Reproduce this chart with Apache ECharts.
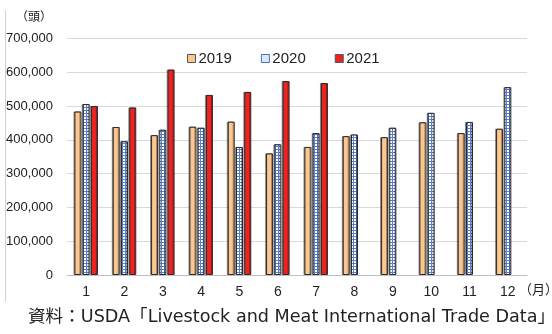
<!DOCTYPE html>
<html>
<head>
<meta charset="utf-8">
<script src="https://cdn.jsdelivr.net/npm/echarts@6/dist/echarts.min.js"></script>
<style>
  html, body { margin: 0; padding: 0; background: #fff; }
  #chart { width: 552px; height: 334px; }
</style>
</head>
<body>
<div id="chart"></div>
<script>
// Monthly head counts by year (months 8-12 have no 2021 figures)
var months = ['1', '2', '3', '4', '5', '6', '7', '8', '9', '10', '11', '12'];
var v2019 = [484000, 438000, 414000, 439000, 454000, 360000, 379000, 411000, 408000, 452000, 420000, 433000];
var v2020 = [506000, 396000, 430000, 436000, 379000, 387000, 420000, 416000, 436000, 480000, 453000, 556000];
var v2021 = [500000, 496000, 608000, 533000, 542000, 574000, 568000, null, null, null, null, null];
var seriesNames = ['2019', '2020', '2021'];
var yTicks = { min: 0, max: 700000, interval: 100000 };

var FONT = '"Noto Sans CJK JP", "Noto Sans", sans-serif';
var WIDE = '"Liberation Sans", "Noto Sans CJK JP", sans-serif';
var SRC = '"DejaVu Sans", "Noto Sans CJK JP", sans-serif';

// Small blue grid tile used to fill the 2020 bars
function gridPattern() {
  var c = document.createElement('canvas');
  c.width = 3; c.height = 3;
  var g = c.getContext('2d');
  g.fillStyle = '#ffffff';
  g.fillRect(0, 0, 3, 3);
  g.fillStyle = '#5a7fd0';
  g.fillRect(2, 0, 1, 3);
  g.fillRect(0, 2, 3, 1);
  return c;
}
var pattern = { image: gridPattern(), repeat: 'repeat' };

var fills = ['#fcc68e', pattern, '#ec2421'];

var chart = echarts.init(document.getElementById('chart'), null, { renderer: 'canvas' });

var series = [v2019, v2020, v2021].map(function (vals, i) {
  return {
    name: seriesNames[i],
    type: 'bar',
    data: vals,
    barWidth: 7,
    barGap: '18%',
    itemStyle: {
      color: fills[i],
      borderColor: '#2b2b2b',
      borderWidth: 1,
      shadowColor: 'rgba(0,0,0,0.35)',
      shadowOffsetX: -1,
      shadowBlur: 0
    }
  };
});

chart.setOption({
  animation: false,
  textStyle: { fontFamily: FONT },
  grid: { left: 67, right: 25, top: 38.5, bottom: 59, containLabel: false },
  legend: {
    data: seriesNames.map(function (n, i) {
      return { name: n, itemStyle: { color: i === 1 ? '#dfe6f7' : fills[i], borderColor: i === 1 ? '#4a6fc4' : '#555', borderWidth: 1 } };
    }),
    top: 46,
    left: 182,
    itemWidth: 8,
    itemHeight: 8,
    itemGap: 29,
    icon: 'rect',
    textStyle: { fontSize: 15, color: '#222', fontFamily: WIDE, padding: [0, 0, 0, -2] }
  },
  xAxis: {
    type: 'category',
    data: months,
    axisLine: { lineStyle: { color: '#bfbfbf', width: 1 } },
    axisTick: { show: false },
    axisLabel: { color: '#222', fontSize: 14, margin: 10, fontFamily: WIDE }
  },
  yAxis: {
    type: 'value',
    min: yTicks.min,
    max: yTicks.max,
    interval: yTicks.interval,
    axisLine: { show: false },
    axisTick: { show: false },
    splitLine: { lineStyle: { color: '#d9d9d9', width: 1 } },
    axisLabel: {
      color: '#222',
      fontSize: 13,
      margin: 14,
      fontFamily: WIDE,
      formatter: function (v) { return v.toLocaleString('en-US'); }
    }
  },
  graphic: [
    { type: 'line', shape: { x1: 5.5, y1: 10, x2: 5.5, y2: 302 }, style: { stroke: '#d0d0d0', lineWidth: 1 } },
    { type: 'text', left: 16, top: 10, style: { text: '（頭）', fill: '#222', font: '12px ' + FONT } },
    { type: 'text', left: 519, top: 283, style: { text: '（月）', fill: '#222', font: '13px ' + FONT } },
    { type: 'text', left: 28, top: 309, style: { text: '資料：USDA「Livestock and Meat International Trade Data」', fill: '#222', font: '17.6px ' + SRC } }
  ],
  series: series
});
</script>
</body>
</html>
